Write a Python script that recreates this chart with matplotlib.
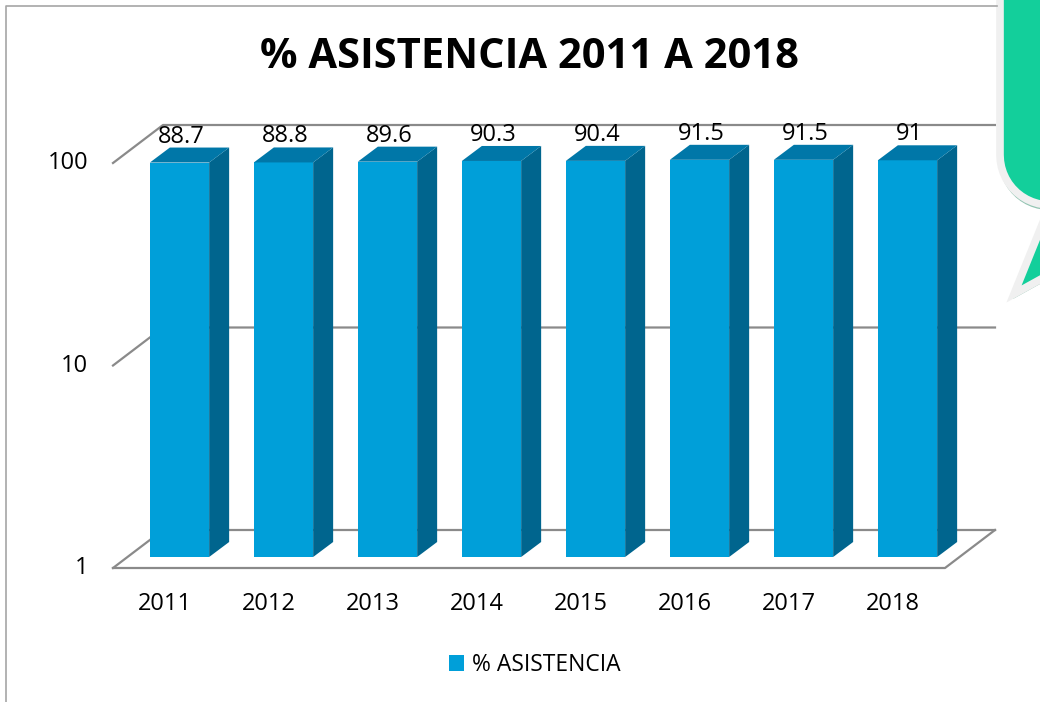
import numpy as np
import matplotlib.pyplot as plt
from matplotlib.transforms import offset_copy, IdentityTransform
from matplotlib.patches import Polygon, PathPatch, Rectangle
from matplotlib.path import Path
from matplotlib.lines import Line2D

plt.rcParams['font.family'] = ['Open Sans', 'DejaVu Sans']

years = ['2011', '2012', '2013', '2014', '2015', '2016', '2017', '2018']
asistencia = [88.7, 88.8, 89.6, 90.3, 90.4, 91.5, 91.5, 91]
y_ticks = [1, 10, 100]
series_name = '% ASISTENCIA'
title = '% ASISTENCIA 2011 A 2018'

c_front = '#009fd9'
c_top = '#0077a8'
c_side = '#00658e'
c_grid = '#8a8a8a'

W, H = 1040, 702
fig = plt.figure(figsize=(W / 100, H / 100), dpi=100)

# axes = plane of the bars' front faces (pixel box)
left, right, bottom, top = 127.5, 959.5, 557, 152
ax = fig.add_axes([left / W, 1 - bottom / H, (right - left) / W, (bottom - top) / H])
ax.set_yscale('log')
ax.set_xlim(-0.5, len(years) - 0.5)
ax.set_ylim(1, 100)
ax.axis('off')

# depth offsets in pixels (display coords, y up)
front_dx, front_dy = -14.5, -11
back_dx, back_dy = 35.5, 27
bar_dx, bar_dy = 20, 15
bar_w = 0.57
fs = 17

tf_front = offset_copy(ax.transData, fig=fig, x=front_dx, y=front_dy, units='dots')
tf_back = offset_copy(ax.transData, fig=fig, x=back_dx, y=back_dy, units='dots')
px = IdentityTransform()

x0, x1 = -0.5, len(years) - 0.5

# walls / gridlines
for v in y_ticks:
    p_f = tf_front.transform((x0, v))
    p_b = tf_back.transform((x0, v))
    p_br = tf_back.transform((x1, v))
    ax.add_line(Line2D([p_f[0], p_b[0], p_br[0]], [p_f[1], p_b[1], p_br[1]],
                       transform=px, color=c_grid, lw=1.6, clip_on=False, zorder=1))
# floor front edge
p_fl = tf_front.transform((x0, 1))
p_fr = tf_front.transform((x1, 1))
p_br = tf_back.transform((x1, 1))
ax.add_line(Line2D([p_fl[0], p_fr[0], p_br[0]], [p_fl[1], p_fr[1], p_br[1]],
                   transform=px, color=c_grid, lw=1.6, clip_on=False, zorder=1))

# bars
xs = np.arange(len(years))
ax.bar(xs, np.array(asistencia) - 1, bottom=1, width=bar_w, color=c_front, zorder=3)
for xi, v in zip(xs, asistencia):
    br = ax.transData.transform((xi + bar_w / 2, 1))
    tl = ax.transData.transform((xi - bar_w / 2, v))
    tr = ax.transData.transform((xi + bar_w / 2, v))
    d = np.array([bar_dx, bar_dy])
    side = Polygon([br, tr, tr + d, br + d], closed=True, transform=px,
                   facecolor=c_side, edgecolor='none', clip_on=False, zorder=3)
    topf = Polygon([tl, tr, tr + d, tl + d], closed=True, transform=px,
                   facecolor=c_top, edgecolor='none', clip_on=False, zorder=3)
    ax.add_patch(side)
    ax.add_patch(topf)

# value labels
tf_lab = offset_copy(ax.transData, fig=fig, x=2, y=bar_dy + 5, units='dots')
for xi, v in zip(xs, asistencia):
    ax.text(xi, v, f'{v:g}', transform=tf_lab, ha='center', va='baseline',
            fontsize=fs, color='black', zorder=4)

# axis tick labels
tf_ylab = offset_copy(ax.transData, fig=fig, x=front_dx - 25, y=front_dy, units='dots')
for v in y_ticks:
    ax.text(x0, v, f'{v}', transform=tf_ylab, ha='right', va='center', fontsize=fs)
tf_xlab = offset_copy(ax.transData, fig=fig, x=front_dx, y=front_dy - 36, units='dots')
for xi, lab in zip(xs, years):
    ax.text(xi, 1, lab, transform=tf_xlab, ha='center', va='center', fontsize=fs)

# title
fig.text(530 / W, 1 - 57 / H, title, ha='center', va='center',
         fontsize=30, fontweight='bold')

# legend
handle = Rectangle((0, 0), 1, 1, facecolor=c_front)
fig.legend([handle], [series_name], loc='center', bbox_to_anchor=(535 / W, 1 - 665 / H),
           frameon=False, fontsize=16.5, handlelength=0.65, handleheight=0.65,
           handletextpad=0.35)

# chart frame
fig.add_artist(Line2D([6, 6, 997], [0, H - 6, H - 6], transform=px,
                      color='#a6a6a6', lw=1.2))

# speech bubble on the right edge (decoration)
def bubble(dx=0.0, dy=0.0):
    cx, cy, r = 1050, 155, 50
    verts = [(1070, -20), (1000, -20), (1000, cy)]
    for a in np.linspace(np.pi, np.pi / 2, 14)[1:]:
        verts.append((cx + r * np.cos(a), cy + r * np.sin(a)))
    verts += [(1014, 294), (1070, 263), (1070, -20)]
    verts = [(x + dx, H - (y + dy)) for x, y in verts]
    codes = [Path.MOVETO] + [Path.LINETO] * (len(verts) - 2) + [Path.CLOSEPOLY]
    return Path(verts, codes)

fig.add_artist(PathPatch(bubble(-1, 5), transform=px, facecolor='#93c4b2',
                         edgecolor='none'))
fig.add_artist(PathPatch(bubble(), transform=px, facecolor='#13cf9b',
                         edgecolor='#f0f0f0', lw=5.5, joinstyle='miter'))

fig.savefig('out.png', dpi=100)
